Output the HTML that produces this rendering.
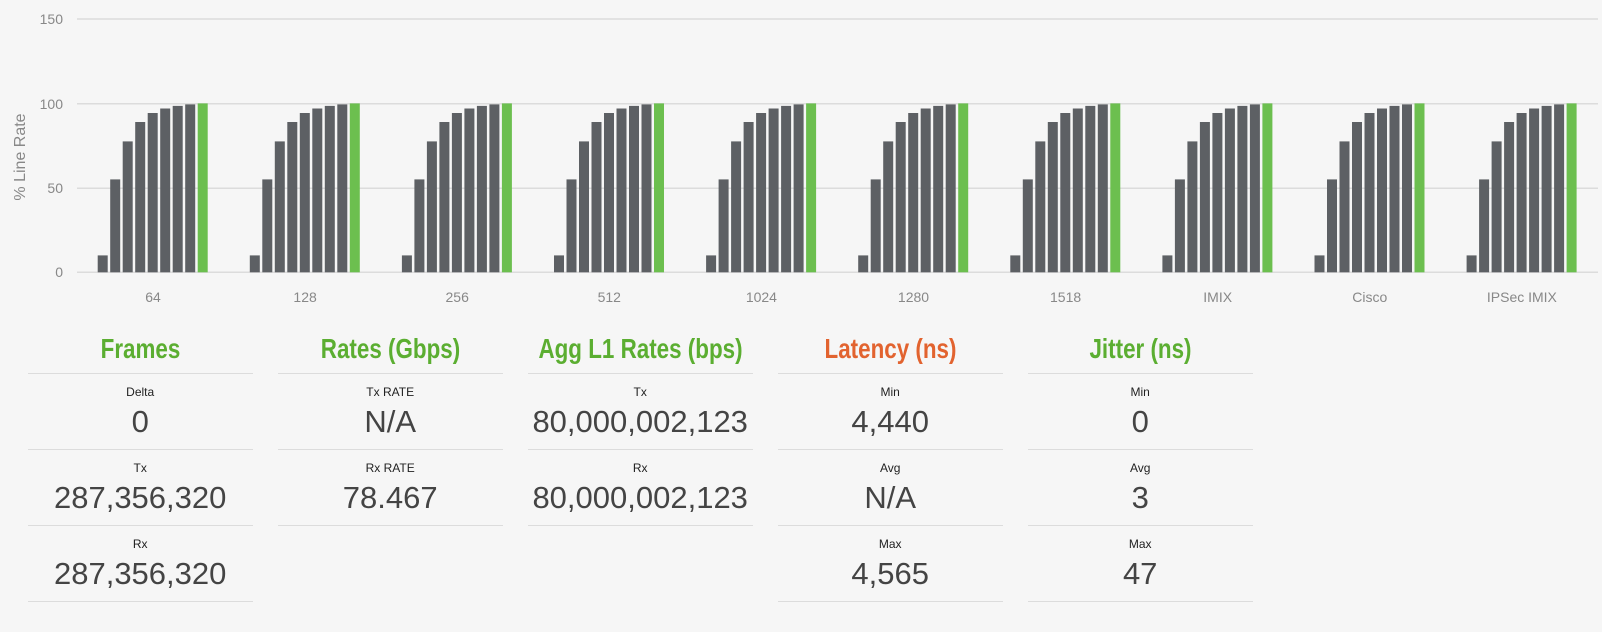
<!DOCTYPE html>
<html><head><meta charset="utf-8"><style>
body{margin:0;width:1602px;height:632px;background:#f6f6f6;font-family:"Liberation Sans",sans-serif;overflow:hidden;position:relative}
.col{position:absolute;top:320px;width:225px}
.t{position:absolute;top:13px;left:-40px;width:305px;text-align:center;font-weight:bold;font-size:28px;transform:scaleX(0.8);color:#5bae31;white-space:nowrap}
.ln{position:absolute;left:0;width:225px;height:0;border-top:1.5px solid #dcdcdc}
.lb{position:absolute;left:0;width:225px;text-align:center;font-size:12px;color:#222}
.v{position:absolute;left:-20px;width:265px;text-align:center;font-size:31px;color:#444;white-space:nowrap}
</style></head><body>
<svg width="1602" height="320" style="position:absolute;left:0;top:0" font-family="Liberation Sans, sans-serif">
<g stroke="#dcdcdc" stroke-width="1.5">
<line x1="77" x2="1598" y1="19" y2="19"/><line x1="77" x2="1598" y1="103.7" y2="103.7"/><line x1="77" x2="1598" y1="188.3" y2="188.3"/><line x1="77" x2="1598" y1="272.3" y2="272.3"/>
</g>
<g fill="#888" font-size="14" text-anchor="end">
<text x="63" y="24">150</text><text x="63" y="109">100</text><text x="63" y="193">50</text><text x="63" y="277">0</text>
</g>
<text transform="translate(25,157) rotate(-90)" text-anchor="middle" fill="#888" font-size="16">% Line Rate</text>
<g id="bars"></g>
<g id="labs" fill="#888" font-size="14" text-anchor="middle"></g>
</svg>
<script>
var vals=[10,55,77.5,89,94.3,97,98.5,99.4,100],cats=["64","128","256","512","1024","1280","1518","IMIX","Cisco","IPSec IMIX"];
var s="",l="";
for(var g=0;g<10;g++){var gx=77+152.1*g;
for(var i=0;i<9;i++){var h=vals[i]*1.689;var x=gx+20.7+12.5*i;
s+='<rect x="'+x.toFixed(1)+'" y="'+(272.3-h).toFixed(1)+'" width="10" height="'+h.toFixed(1)+'" fill="'+(i==8?'#6cbf4f':'#5d6064')+'"/>';}
l+='<text x="'+(gx+76).toFixed(1)+'" y="302">'+cats[g]+'</text>';}
document.getElementById("bars").innerHTML=s;document.getElementById("labs").innerHTML=l;
</script>

<div class="col" style="left:27.7px">
<div class="t">Frames</div>
<div class="ln" style="top:53px"></div>
<div class="lb" style="top:65px">Delta</div><div class="v" style="top:84px">0</div>
<div class="ln" style="top:129px"></div>
<div class="lb" style="top:141px">Tx</div><div class="v" style="top:160px">287,356,320</div>
<div class="ln" style="top:205px"></div>
<div class="lb" style="top:217px">Rx</div><div class="v" style="top:236px">287,356,320</div>
<div class="ln" style="top:281px"></div>
</div>
<div class="col" style="left:277.7px">
<div class="t">Rates (Gbps)</div>
<div class="ln" style="top:53px"></div>
<div class="lb" style="top:65px">Tx RATE</div><div class="v" style="top:84px">N/A</div>
<div class="ln" style="top:129px"></div>
<div class="lb" style="top:141px">Rx RATE</div><div class="v" style="top:160px">78.467</div>
<div class="ln" style="top:205px"></div>
</div>
<div class="col" style="left:527.7px">
<div class="t">Agg L1 Rates (bps)</div>
<div class="ln" style="top:53px"></div>
<div class="lb" style="top:65px">Tx</div><div class="v" style="top:84px">80,000,002,123</div>
<div class="ln" style="top:129px"></div>
<div class="lb" style="top:141px">Rx</div><div class="v" style="top:160px">80,000,002,123</div>
<div class="ln" style="top:205px"></div>
</div>
<div class="col" style="left:777.7px">
<div class="t" style="color:#e2632f">Latency (ns)</div>
<div class="ln" style="top:53px"></div>
<div class="lb" style="top:65px">Min</div><div class="v" style="top:84px">4,440</div>
<div class="ln" style="top:129px"></div>
<div class="lb" style="top:141px">Avg</div><div class="v" style="top:160px">N/A</div>
<div class="ln" style="top:205px"></div>
<div class="lb" style="top:217px">Max</div><div class="v" style="top:236px">4,565</div>
<div class="ln" style="top:281px"></div>
</div>
<div class="col" style="left:1027.7px">
<div class="t">Jitter (ns)</div>
<div class="ln" style="top:53px"></div>
<div class="lb" style="top:65px">Min</div><div class="v" style="top:84px">0</div>
<div class="ln" style="top:129px"></div>
<div class="lb" style="top:141px">Avg</div><div class="v" style="top:160px">3</div>
<div class="ln" style="top:205px"></div>
<div class="lb" style="top:217px">Max</div><div class="v" style="top:236px">47</div>
<div class="ln" style="top:281px"></div>
</div>
</body></html>
